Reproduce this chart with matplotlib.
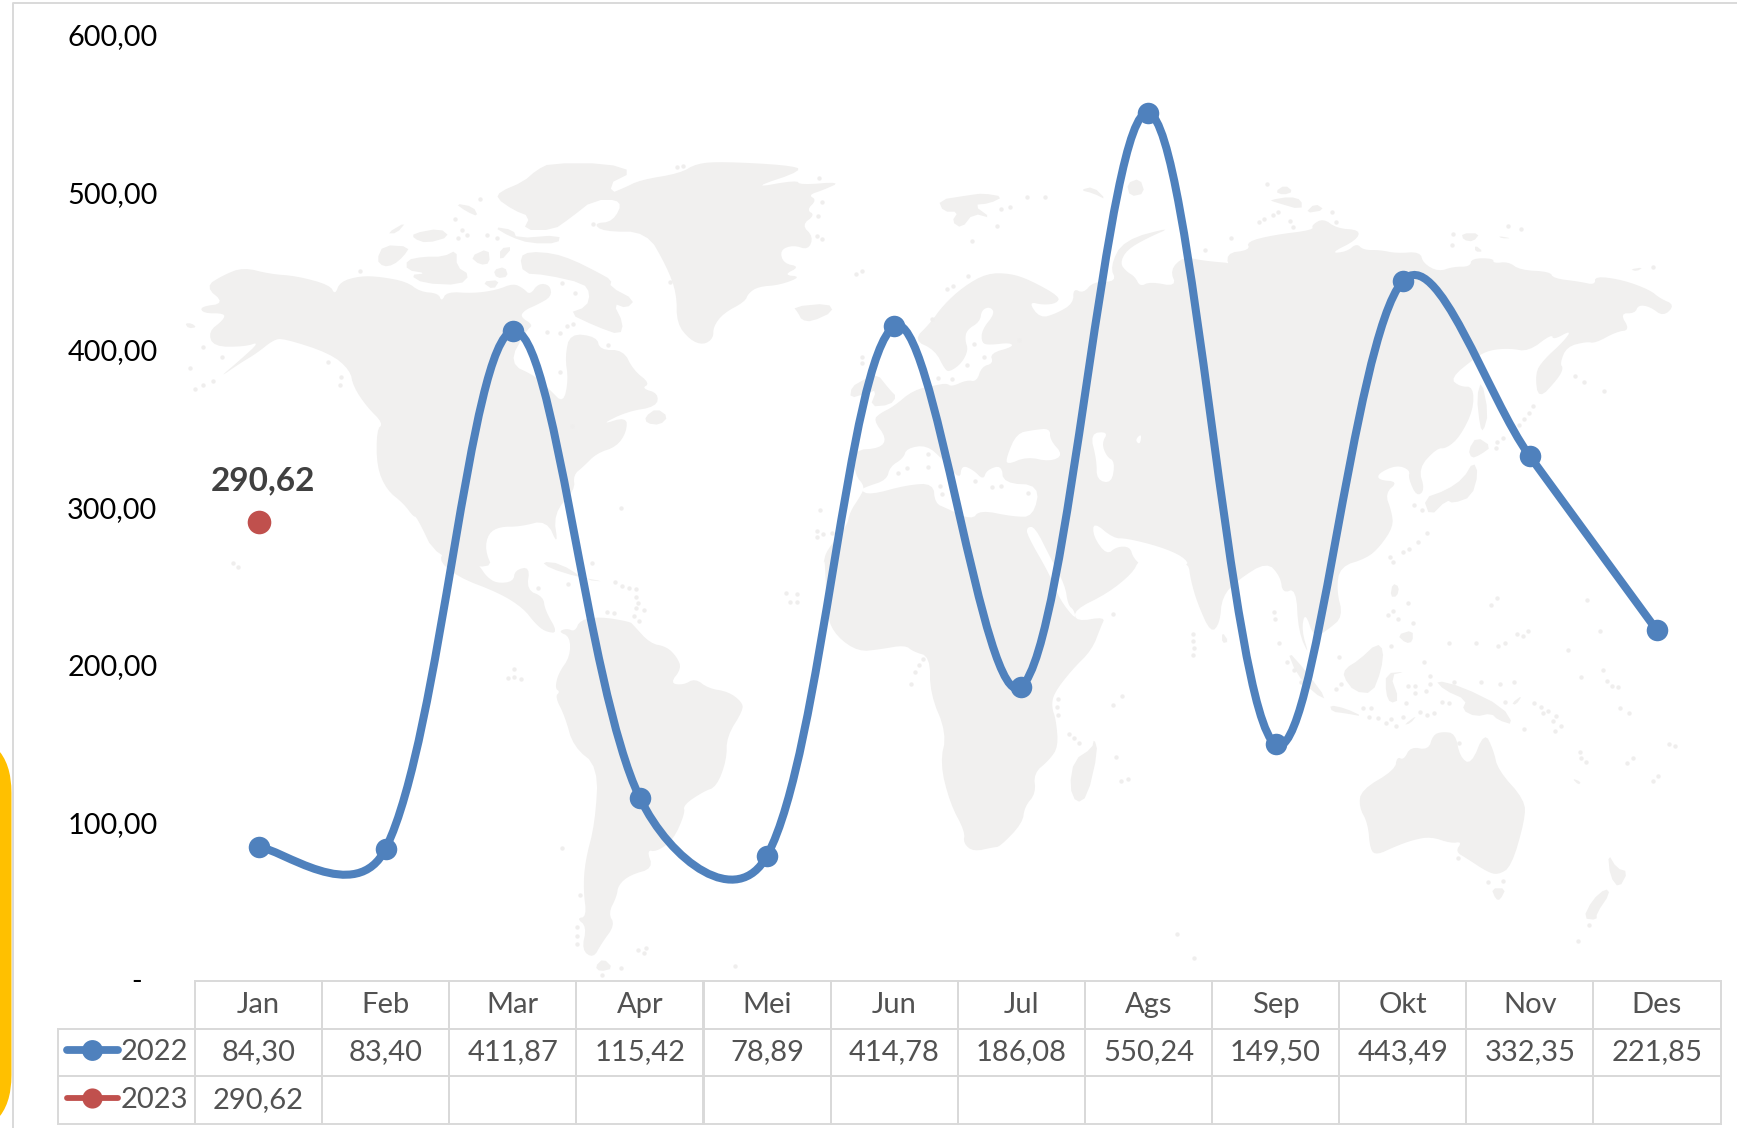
"""Monthly values 2022/2023 as a smoothed line over a world map, with data table."""

import matplotlib

matplotlib.use("Agg")

import matplotlib.pyplot as plt
import numpy as np
from matplotlib.lines import Line2D
from matplotlib.patches import FancyBboxPatch, PathPatch, Polygon
from matplotlib.path import Path
from matplotlib.table import Table
from matplotlib.ticker import FuncFormatter

plt.rcParams["font.family"] = ["Lato", "DejaVu Sans"]

MONTHS = ["Jan", "Feb", "Mar", "Apr", "Mei", "Jun", "Jul", "Ags", "Sep", "Okt", "Nov", "Des"]
VALUES_2022 = [84.30, 83.40, 411.87, 115.42, 78.89, 414.78, 186.08, 550.24, 149.50, 443.49, 332.35, 221.85]
VALUES_2023 = [290.62, None, None, None, None, None, None, None, None, None, None, None]
Y_TICKS = [0, 100, 200, 300, 400, 500, 600]

BLUE = "#4F81BD"
RED = "#C0504D"
GRID = "#D9D9D9"
LAND = "#F1F0EF"
TEXT = "#525252"

W, H = 1737, 1128
# plot area and table edges, in pixels
LEFT, RIGHT, TOP, BASE = 195.0, 1720.5, 34.5, 980.0
TABLE_LEFT, TABLE_TOP, TABLE_BOTTOM = 57.5, 981.0, 1123.5


def crop(points, ox, oy, sx=3.0, sy=3.0):
    """Convert coordinates traced on a zoomed crop to picture pixels."""
    return [(ox + x / sx, oy + y / sy) for x, y in points]


def c4(points):
    return crop(points, 180, 150)


def c5(points):
    return crop(points, 680, 150)


def c6(points):
    return crop(points, 1190, 150)


def c7(points):
    return crop(points, 500, 560)


def c8(points):
    return crop(points, 1000, 560, sx=2.229)


# background map, traced by hand
AFRO_EURASIA = (
    c7([(1480, 862), (1420, 875), (1390, 850), (1395, 815), (1350, 730), (1320, 610), (1340, 520), (1290, 400),
        (1290, 290), (1240, 275), (1215, 255), (1140, 268), (1075, 275), (1010, 230), (980, 170), (975, 0)])
    + c5([(430, 1240), (440, 1200), (500, 1130), (510, 1085), (540, 1040), (555, 1010), (525, 975), (520, 900),
          (600, 895), (620, 865), (580, 810), (600, 790), (640, 770), (700, 720), (770, 705), (800, 700), (815, 710),
          (860, 690), (890, 695), (905, 650), (940, 640), (930, 610), (1000, 590), (990, 578), (930, 585), (905, 580),
          (905, 540), (945, 490), (930, 470), (905, 480), (900, 515), (860, 540), (855, 570), (865, 600), (845, 640),
          (810, 665), (795, 660), (765, 600), (700, 570), (750, 520), (790, 465), (850, 410), (920, 370), (990, 370),
          (1050, 390), (1140, 440), (1130, 460), (1090, 465), (1045, 455), (1080, 505), (1130, 490), (1180, 460),
          (1180, 415), (1210, 430), (1240, 395), (1310, 395), (1290, 350), (1330, 270), (1480, 230), (1400, 265),
          (1340, 300), (1320, 340), (1340, 365), (1365, 380), (1380, 410), (1410, 395), (1490, 410), (1470, 360),
          (1510, 320)])
    + c6([(30, 330), (70, 335), (130, 340), (140, 370), (125, 370), (105, 310), (180, 300), (170, 275), (250, 255),
          (370, 240), (365, 225), (400, 205), (440, 235), (510, 240), (500, 270), (420, 310), (470, 305), (500, 280),
          (520, 300), (570, 300), (620, 310), (690, 305), (700, 340), (745, 365), (790, 350), (840, 350), (845, 325),
          (910, 325), (910, 340), (955, 335), (990, 360), (1080, 365), (1090, 385), (1170, 395), (1215, 405),
          (1215, 378), (1300, 390), (1380, 420), (1410, 445), (1455, 465), (1420, 500), (1380, 470), (1345, 465),
          (1335, 490), (1290, 490), (1320, 540), (1280, 545), (1215, 580), (1190, 575), (1130, 590), (1110, 640),
          (1120, 655), (1105, 685), (1045, 750), (1035, 670), (1060, 630), (1120, 575), (1145, 540), (1090, 570),
          (1085, 552), (1015, 605), (960, 595), (900, 600), (860, 620), (780, 685), (810, 710), (850, 710), (850, 780),
          (810, 860), (770, 895), (740, 895), (685, 955), (705, 1020), (680, 1040), (655, 985), (660, 960), (620, 945),
          (565, 970), (565, 990), (625, 995), (585, 1030), (605, 1085), (610, 1130), (570, 1190), (530, 1225),
          (450, 1250)])
    + c8([(750, 90), (765, 170), (730, 210), (700, 235), (680, 155), (672, 210), (690, 290), (665, 215), (660, 85),
          (630, 100), (625, 50), (595, 5), (530, 60), (495, 110), (490, 190), (470, 220), (440, 130), (425, 60),
          (420, 10), (400, 20), (395, 0)])
    + c5([(1500, 1225), (1400, 1235)])
    + c8([(310, 0), (295, 40), (240, 100), (165, 150), (170, 185), (235, 170), (225, 200), (205, 270), (160, 330),
          (120, 400), (115, 440), (125, 480), (130, 560), (110, 600), (75, 640), (80, 700), (55, 740), (50, 790),
          (0, 860)])
)
NORTH_AMERICA = c4([
    (75, 410), (130, 375), (190, 352), (270, 372), (350, 378), (450, 405), (465, 435), (480, 395), (540, 378),
    (600, 380), (680, 395), (720, 425), (775, 430), (785, 455), (800, 425), (880, 430), (950, 420), (1000, 400),
    (1030, 415), (1050, 435), (1075, 400), (1110, 405), (1115, 440), (1070, 465), (1035, 480), (1020, 500),
    (1060, 525), (1040, 540), (985, 640), (1070, 680), (1110, 720), (1150, 760), (1165, 690), (1155, 620), (1170, 550),
    (1250, 560), (1260, 600), (1330, 600), (1360, 660), (1410, 700), (1385, 715), (1435, 730), (1430, 770),
    (1340, 785), (1260, 825), (1340, 800), (1340, 845), (1310, 890), (1250, 910), (1210, 950), (1180, 975),
    (1185, 1020), (1120, 1090), (1135, 1190), (1100, 1110), (1020, 1130), (960, 1130), (925, 1150), (915, 1200),
    (940, 1260), (770, 1225), (710, 1100), (700, 1100), (670, 1060), (620, 1020), (590, 950), (590, 840), (610, 820),
    (560, 770), (520, 710), (510, 660), (450, 610), (310, 565), (280, 570), (230, 610), (180, 640), (115, 685),
    (180, 630), (240, 575), (195, 590), (100, 590), (85, 545), (130, 510), (135, 490), (70, 490), (60, 470),
    (135, 460),
])
CENTRAL_AMERICA = c7([
    (-190, -5), (-130, 50), (0, 100), (70, 145), (105, 190), (135, 215), (175, 220), (135, 150), (130, 110), (80, 90),
    (90, 20), (45, 30), (40, 65), (-10, 70), (-40, 50), (-60, 20), (-95, -20), (-140, -40),
])
SOUTH_AMERICA = c7([
    (175, 215), (210, 230), (210, 290), (175, 340), (165, 385), (180, 395), (165, 410), (195, 470), (220, 560),
    (295, 620), (285, 790), (255, 905), (250, 990), (260, 1070), (230, 1075), (260, 1100), (245, 1170), (280, 1195),
    (305, 1150), (345, 1095), (325, 1060), (350, 1010), (355, 975), (390, 945), (460, 925), (440, 870), (470, 875),
    (520, 840), (555, 760), (550, 735), (610, 695), (650, 680), (680, 600), (680, 530), (730, 450), (725, 425),
    (685, 395), (625, 385), (585, 355), (550, 375), (510, 370), (545, 325), (530, 290), (500, 260), (450, 250),
    (400, 195), (390, 185), (300, 170), (240, 180), (225, 215), (200, 205),
])
GREENLAND = c5([
    (130, 35), (320, 45), (375, 60), (210, 115), (350, 90), (360, 105), (485, 95), (430, 120), (385, 135), (410, 150),
    (380, 180), (405, 195), (365, 225), (400, 260), (385, 300), (340, 285), (300, 300), (310, 340), (360, 350),
    (310, 375), (365, 380), (300, 405), (235, 410), (205, 430), (195, 455), (130, 490), (100, 530), (100, 565),
    (70, 585), (30, 570), (-10, 520), (-10, 430), (-40, 350), (-100, 245), (-230, 245), (-260, 220), (-200, 215),
    (-170, 150), (-260, 150), (-170, 115), (-120, 90), (0, 70), (50, 40),
])
AUSTRALIA = c8([
    (985, 515), (1015, 520), (1025, 590), (1050, 615), (1080, 515), (1100, 570), (1110, 630), (1170, 720), (1170, 780),
    (1140, 920), (1110, 945), (1085, 935), (1040, 895), (1015, 875), (1030, 845), (1005, 850), (960, 830), (920, 840),
    (880, 860), (840, 885), (825, 870), (820, 790), (800, 740), (805, 690), (880, 630), (885, 590), (900, 600),
    (915, 560), (955, 570), (965, 525),
])
ISLANDS = [
    # Canadian arctic
    c4([(960, 125), (1030, 95), (1070, 60), (1110, 40), (1280, 40), (1360, 65), (1280, 105), (1330, 150), (1240, 150),
        (1170, 205), (1120, 240), (1030, 240), (1050, 200), (1000, 180), (950, 145)]),
    c4([(1020, 320), (1050, 305), (1120, 310), (1180, 330), (1250, 365), (1295, 390), (1290, 410), (1365, 450),
        (1340, 475), (1300, 460), (1330, 520), (1320, 555), (1250, 530), (1165, 490), (1220, 470), (1230, 430),
        (1210, 400), (1100, 375), (1030, 370)]),
    c4([(680, 330), (730, 320), (790, 320), (830, 300), (830, 350), (870, 375), (840, 405), (730, 400), (690, 375),
        (740, 370), (680, 360)]),
    c4([(590, 330), (610, 285), (690, 290), (670, 320), (640, 345), (610, 350)]),
    c4([(870, 320), (925, 295), (930, 340), (900, 345)]),
    c4([(960, 295), (1000, 290), (960, 335)]),
    c4([(940, 360), (975, 350), (985, 380), (950, 385)]),
    c4([(620, 250), (680, 215), (650, 250)]),
    c4([(700, 250), (780, 235), (810, 260), (740, 280), (700, 265)]),
    c4([(825, 160), (880, 170), (895, 200), (860, 185)]),
    c4([(940, 230), (1000, 240), (1010, 265), (1140, 255), (1135, 280), (1050, 280), (990, 260)]),
    c4([(905, 395), (960, 390), (940, 420)]),
    c4([(1395, 800), (1430, 775), (1465, 800), (1440, 825), (1400, 820)]),
    c4([(15, 520), (35, 520), (50, 532), (25, 535)]),
    # caribbean
    c7([(125, 5), (180, 10), (260, 60), (315, 65), (230, 50), (150, 25)]),
    c7([(285, 1220), (310, 1195), (340, 1225), (300, 1235)]),
    # north atlantic and arctic
    c5([(340, 470), (445, 460), (460, 485), (395, 515), (365, 510), (355, 490)]),
    c5([(775, 150), (870, 135), (910, 130), (970, 140), (930, 160), (880, 165), (935, 205), (880, 190), (845, 235),
        (815, 215), (835, 185), (790, 185)]),
    c5([(515, 710), (550, 690), (590, 670), (630, 720), (650, 740), (630, 765), (570, 770), (590, 720), (560, 730),
        (510, 745)]),
    c5([(1200, 120), (1240, 110), (1280, 150), (1240, 130)]),
    c5([(1340, 100), (1380, 85), (1395, 130), (1350, 140)]),
    c6([(255, 125), (285, 105), (310, 125), (280, 135)]),
    c6([(240, 150), (300, 140), (335, 150), (335, 180), (250, 155)]),
    c6([(345, 190), (375, 160), (405, 180)]),
    c6([(815, 250), (870, 250), (850, 275), (820, 270)]),
    c6([(855, 285), (880, 305), (855, 305)]),
    c6([(925, 258), (965, 265), (935, 265)]),
    c6([(1320, 358), (1360, 352), (1340, 364)]),
    # east asia
    c6([(850, 935), (865, 970), (845, 1040), (790, 1060), (770, 1050), (720, 1100), (700, 1045), (770, 1020),
        (820, 985)]),
    c6([(835, 900), (860, 860), (905, 890), (870, 915), (845, 925)]),
    c6([(875, 690), (895, 790), (880, 845), (870, 830), (860, 740)]),
    # indian ocean and south east asia
    c8([(495, 215), (510, 245), (495, 250)]),
    c8([(210, 535), (218, 575), (195, 710), (170, 730), (155, 680), (165, 600), (205, 565)]),
    c8([(840, 250), (855, 270), (850, 330), (830, 400), (790, 395), (765, 350), (770, 325), (800, 300)]),
    c8([(640, 270), (680, 330), (730, 420), (700, 400), (660, 340)]),
    c8([(735, 435), (770, 445), (810, 470), (770, 460), (740, 455)]),
    c8([(860, 340), (905, 335), (870, 345), (890, 420), (870, 430), (860, 400)]),
    c8([(875, 70), (890, 80), (885, 110), (870, 110)]),
    c8([(885, 225), (920, 210), (920, 245), (905, 250)]),
    c8([(900, 495), (930, 465), (915, 490)]),
    # pacific
    c8([(970, 360), (1030, 380), (1120, 440), (1145, 495), (1110, 480), (1095, 460), (1060, 470), (1030, 450),
        (1040, 420), (990, 390)]),
    c8([(1095, 985), (1128, 985), (1115, 1020), (1105, 1018)]),
    c8([(1350, 985), (1360, 1000), (1330, 1060), (1330, 1080), (1300, 1075), (1320, 1020)]),
    c8([(1355, 880), (1375, 925), (1400, 935), (1380, 985), (1360, 950)]),
    c8([(1140, 430), (1165, 405), (1150, 435)]),
    c8([(1275, 655), (1295, 665), (1290, 675)]),
]
WATER = [
    # mediterranean
    c5([(540, 1020), (560, 1010), (620, 990), (630, 950), (670, 925), (680, 895), (740, 885), (790, 930), (840, 990),
        (845, 945), (880, 960), (910, 990), (920, 960), (965, 945), (970, 1000), (1080, 1005), (1060, 1100),
        (1000, 1100), (900, 1080), (875, 1110), (800, 1075), (765, 1060), (760, 1000), (680, 1005), (570, 1035)]),
    # black sea
    c5([(980, 920), (1010, 850), (1060, 840), (1110, 835), (1110, 870), (1150, 915), (1110, 935), (1040, 920),
        (980, 945)]),
    # caspian and aral
    c5([(1230, 850), (1285, 845), (1265, 880), (1280, 920), (1305, 935), (1295, 1000), (1250, 990), (1250, 930)]),
    c5([(1365, 870), (1385, 850), (1380, 885)]),
    # persian gulf
    c5([(1240, 1115), (1300, 1165), (1340, 1165), (1440, 1190), (1510, 1220), (1530, 1250), (1400, 1260), (1360, 1225),
        (1350, 1190), (1310, 1190), (1280, 1215), (1240, 1160)]),
    # red sea, in picture pixels
    [(1027, 527), (1035, 527), (1050, 557), (1065, 585), (1068, 605), (1074, 610), (1076, 620), (1060, 600),
     (1050, 575), (1027, 535)],
]
DOTS = (
    c4([(70, 590), (125, 620), (30, 655), (100, 692), (68, 705), (45, 718), (445, 635), (482, 680), (480, 705),
        (540, 362), (1140, 665), (1175, 828), (1322, 1075), (1285, 585), (1100, 545), (1140, 548), (1160, 527),
        (1180, 522), (1145, 398), (1185, 430), (1240, 222), (1470, 395), (825, 207), (845, 240), (835, 265), (860, 255),
        (950, 265), (920, 255), (900, 148), (1510, 48), (1490, 52), (160, 1240), (175, 1250)])
    + c5([(545, 362), (527, 372), (800, 418), (820, 408), (865, 378), (755, 507), (545, 620), (547, 640), (420, 1080),
          (410, 1142), (430, 1152), (410, 1162), (455, 1148), (417, 85), (425, 155), (415, 197), (410, 258), (425, 268),
          (990, 172), (963, 176), (1040, 140), (1095, 140), (952, 228), (877, 274), (745, 912), (745, 950), (680, 955),
          (655, 970), (885, 993), (937, 1012), (962, 1008), (1045, 1028), (780, 1008), (785, 1033), (775, 685),
          (815, 688), (882, 583), (860, 645), (912, 622), (1018, 570)])
    + c6([(232, 103), (207, 217), (223, 207), (248, 196), (263, 186), (299, 213), (309, 232), (427, 186), (437, 216),
          (123, 264), (45, 300), (790, 252), (786, 285), (953, 228), (993, 238), (1155, 677), (1181, 697), (1242, 723),
          (1030, 768), (1018, 790), (1003, 808), (988, 826), (940, 864), (920, 875), (917, 895), (673, 1065),
          (695, 1080), (710, 1148), (685, 1175), (658, 1198), (640, 1205), (600, 1220), (1388, 352)])
    + c7([(113, 83), (205, 73), (345, 67), (367, 77), (387, 83), (407, 88), (408, 110), (413, 130), (407, 145),
          (432, 150), (403, 167), (418, 182), (322, 156), (342, 160), (858, 99), (890, 103), (870, 125), (890, 125),
          (43, 327), (23, 354), (43, 352), (63, 357), (185, 863), (240, 1005), (230, 1100), (231, 1127), (231, 1153),
          (414, 1170), (437, 1165), (433, 1180), (362, 1224), (305, 1245), (705, 1218), (275, 10), (1270, 296),
          (1258, 316), (1244, 337), (1233, 373)])
    + c8([(610, 155), (612, 177), (430, 222), (430, 243), (433, 264), (430, 285), (622, 248), (640, 305), (656, 330),
          (672, 367), (755, 290), (872, 258), (760, 372), (750, 388), (945, 305), (958, 347), (958, 372), (910, 377),
          (925, 378), (925, 398), (950, 392), (905, 428), (985, 425), (1000, 430), (1012, 367), (1073, 367),
          (1115, 373), (1145, 367), (810, 445), (827, 445), (823, 470), (842, 475), (872, 477), (898, 470), (860, 490),
          (882, 497), (936, 455), (952, 465), (968, 460), (1023, 548), (875, 5), (910, 128), (875, 152), (865, 165),
          (888, 177), (921, 190), (1107, 115), (1095, 135), (1308, 120), (1337, 212), (1178, 212), (1166, 228),
          (1152, 222), (1125, 248), (1110, 258), (1061, 248), (1001, 248), (1266, 270), (1345, 330), (1353, 362),
          (1365, 378), (1378, 382), (1296, 352), (1383, 445), (1402, 460), (1190, 430), (1205, 440), (1222, 452),
          (1240, 467), (1210, 460), (1232, 482), (1251, 497), (1236, 512), (1167, 507), (1125, 425), (130, 418),
          (126, 440), (130, 466), (153, 522), (164, 535), (175, 548), (252, 161), (271, 408), (251, 434), (259, 590),
          (270, 662), (285, 656), (1293, 575), (1296, 595), (1307, 605), (1410, 595), (1398, 610), (1467, 647),
          (1455, 662), (1492, 552), (1505, 558), (1020, 893), (1088, 967), (1122, 962), (1312, 1096), (1288, 1142),
          (433, 1194), (395, 1122)])
)


def format_value(value):
    return f"{value:.2f}".replace(".", ",")


def rounded(shape, passes=2):
    """Round off the corners of a traced outline by cutting them."""
    pts = np.array(shape, dtype=float)
    for _ in range(passes):
        following = np.roll(pts, -1, axis=0)
        pts = np.column_stack([0.75 * pts + 0.25 * following, 0.25 * pts + 0.75 * following]).reshape(-1, 2)
    return pts


def smooth_path(xs, ys, x_scale, y_scale):
    """Bezier path through the points, like the smoothed line of a spreadsheet.

    Handles shrink on the side of a short segment; lengths are measured on
    screen, hence the scales.
    """
    pts = np.column_stack([xs, ys])
    scale = np.array([x_scale, y_scale])
    count = len(pts)

    def handle(i, other, far):
        near_len = np.linalg.norm((pts[other] - pts[i]) * scale)
        far_len = np.linalg.norm((pts[far] - pts[i]) * scale)
        return (1 / 6 + near_len / (3 * (near_len + far_len))) / 2

    verts = [pts[0]]
    codes = [Path.MOVETO]
    for i in range(count - 1):
        before = max(i - 1, 0)
        after = min(i + 2, count - 1)
        start = handle(i, i + 1, before) if i > 0 else 1 / 6
        end = handle(i + 1, i, after) if i + 1 < count - 1 else 1 / 6
        verts += [pts[i] + (pts[i + 1] - pts[before]) * start, pts[i + 1] - (pts[after] - pts[i]) * end, pts[i + 1]]
        codes += [Path.CURVE4] * 3
    return Path(verts, codes)


def draw_background(fig):
    """Frame, yellow tab and map, in a full-figure axes measured in pixels."""
    bg = fig.add_axes([0, 0, 1, 1], zorder=0)
    bg.set_xlim(0, W)
    bg.set_ylim(H, 0)
    bg.axis("off")

    bg.add_patch(FancyBboxPatch((-120, 733), 131.5, 402, boxstyle="round,pad=0,rounding_size=60",
                                fc="#FFC000", ec="none"))
    bg.plot([12.5, 12.5, W], [H, 2.5, 2.5], color=GRID, lw=1.4)

    land = [AFRO_EURASIA, NORTH_AMERICA, CENTRAL_AMERICA, SOUTH_AMERICA, GREENLAND, AUSTRALIA]
    for shape in land:
        bg.add_patch(Polygon(rounded(shape), closed=True, fc=LAND, ec="none", zorder=1))
    for shape in WATER:
        bg.add_patch(Polygon(rounded(shape), closed=True, fc="white", ec="none", zorder=2))
    for shape in ISLANDS:
        bg.add_patch(Polygon(rounded(shape, 1), closed=True, fc=LAND, ec="none", zorder=3))
    dots = np.array(DOTS)
    bg.scatter(dots[:, 0], dots[:, 1], s=10, color="#EFEEED", linewidths=0, zorder=4)

    # legend keys of the data table
    bg.add_line(Line2D([67, 92, 118], [1050, 1050, 1050], color=BLUE, lw=5.6, marker="o", markersize=15,
                       markeredgewidth=0, markevery=[1], solid_capstyle="round"))
    bg.add_line(Line2D([67, 92, 118], [1098, 1098, 1098], color=RED, lw=4.2, marker="o", markersize=14.5,
                       markeredgewidth=0, markevery=[1], solid_capstyle="round"))


def draw_table(ax):
    """Data table under the plot, with the first column as row labels."""
    ax_w = RIGHT - LEFT
    ax_h = BASE - TOP
    bbox = [(TABLE_LEFT - LEFT) / ax_w, (BASE - TABLE_BOTTOM) / ax_h,
            (RIGHT - TABLE_LEFT) / ax_w, (TABLE_BOTTOM - TABLE_TOP) / ax_h]
    table = Table(ax, bbox=bbox)
    table.auto_set_font_size(False)
    col_w = (RIGHT - LEFT) / len(MONTHS)

    def add(row, col, text):
        width = LEFT - TABLE_LEFT if col == 0 else col_w
        loc = "right" if col == 0 else "center"
        cell = table.add_cell(row, col, width, 1.0, text=text, loc=loc, facecolor="none", edgecolor=GRID)
        cell.set_linewidth(1.4)
        cell.PAD = 0.05
        cell.get_text().set_color(TEXT)

    for col, month in enumerate(MONTHS, start=1):
        add(0, col, month)
    add(1, 0, "2022")
    add(2, 0, "2023")
    for col, (v22, v23) in enumerate(zip(VALUES_2022, VALUES_2023), start=1):
        add(1, col, format_value(v22))
        add(2, col, "" if v23 is None else format_value(v23))
    table.set_fontsize(21)
    ax.add_table(table)


def main():
    fig = plt.figure(figsize=(W / 100, H / 100), dpi=100, facecolor="white")
    draw_background(fig)

    ax = fig.add_axes([LEFT / W, 1 - BASE / H, (RIGHT - LEFT) / W, (BASE - TOP) / H], zorder=1)
    ax.patch.set_visible(False)
    for spine in ax.spines.values():
        spine.set_visible(False)

    x = np.arange(len(MONTHS))
    x_scale = (RIGHT - LEFT) / len(MONTHS)
    y_scale = (BASE - TOP) / Y_TICKS[-1]
    ax.add_patch(PathPatch(smooth_path(x, VALUES_2022, x_scale, y_scale), fc="none", ec=BLUE, lw=5.8,
                           capstyle="round", zorder=3))
    ax.plot(x, VALUES_2022, ls="none", marker="o", markersize=15.5, color=BLUE, markeredgewidth=0, zorder=4)
    y_2023 = np.array([np.nan if v is None else v for v in VALUES_2023], dtype=float)
    ax.plot(x, y_2023, ls="none", marker="o", markersize=17, color=RED, markeredgewidth=0, zorder=4)
    ax.annotate(format_value(VALUES_2023[0]), (x[0], VALUES_2023[0]), xytext=(3, 29.5), textcoords="offset points",
                ha="center", va="center", fontsize=24, fontweight="bold", color="#404040", zorder=5)

    ax.set_xlim(-0.5, len(MONTHS) - 0.5)
    ax.set_ylim(Y_TICKS[0], Y_TICKS[-1])
    ax.set_xticks([])
    ax.set_yticks(Y_TICKS)
    ax.yaxis.set_major_formatter(FuncFormatter(lambda v, _pos: format_value(v) if v else "-"))
    ax.tick_params(axis="y", length=0, pad=27, labelsize=20.8, labelcolor="black")
    # the zero label sits further in, as with an accounting number format
    ax.get_yticklabels()[0].set_x(-0.0105)

    draw_table(ax)
    fig.savefig("out.png", dpi=100)


if __name__ == "__main__":
    main()
